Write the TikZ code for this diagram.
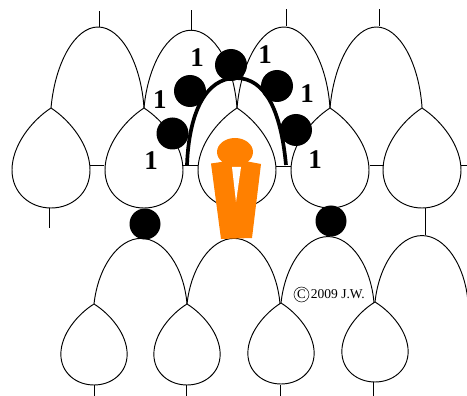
\documentclass[tikz,border=0pt]{standalone}
\usepackage{fontspec}
\setmainfont{Liberation Serif}
\usetikzlibrary{positioning}
\definecolor{bodyorange}{RGB}{255,128,0}
\tikzset{
    leaf/.pic={
        \draw[wire] (0,0) .. controls (-20,13) and (-39,38) .. (-39,62)
            .. controls (-39,85) and (-21,100) .. (0,100)
            .. controls (21,100) and (39,85) .. (39,62)
            .. controls (39,38) and (20,13) .. (0,0);
    },
    arch/.pic={
        \draw[wire] (0,0) .. controls (4,-45) and (24,-81) .. (47,-81)
            .. controls (70,-81) and (90,-45) .. (93,0);
    }
}
\begin{document}
\begin{tikzpicture}[x=1pt,y=-1pt,
    wire/.style={line width=0.95pt},
    ball/.style={circle,fill=black,inner sep=0pt,minimum size=32pt},
    smallball/.style={circle,fill=black,inner sep=0pt,minimum size=31pt},
    one/.style={font=\fontsize{27}{27}\selectfont\bfseries,inner sep=0pt},
    small/.style={font=\fontsize{13.5}{13.5}\selectfont,inner sep=0pt}]
    \useasboundingbox (0,0) rectangle (467,396);

    % upper row
    \coordinate (t1) at (51,108);
    \coordinate (t2) at (144,108);
    \coordinate (t3) at (237,108);
    \coordinate (t4) at (330,108);
    \coordinate (t5) at (422,108);
    \pic at (t1) {leaf};
    \pic at (t2) {leaf};
    \pic at (t3) {leaf};
    \pic at (t4) {leaf};
    \pic at (t5) {leaf};
    \pic at (t1) {arch};
    \pic[yscale=0.96] at (t2) {arch};
    \pic at (t3) {arch};
    \pic[xscale=0.99] at (t4) {arch};

    % stubs
    \draw[wire] (99,27) -- (99,11);
    \draw[wire] (191,30) -- (191,10);
    \draw[wire] (286,26) -- (286,9);
    \draw[wire] (379,26) -- (379,9);
    \draw[wire] (90,165) -- (104,165);
    \draw[wire] (182,165) -- (198,165);
    \draw[wire] (276,166) -- (291,166);
    \draw[wire] (370,165) -- (384,165);
    \draw[wire] (461,165) -- (467,165);
    \draw[wire] (49.5,208) -- (49.5,228);
    \draw[wire] (425,208) -- (425,235);

    % lower row
    \coordinate (u1) at (94,304);
    \coordinate (u2) at (187,304);
    \coordinate (u3) at (281,303);
    \coordinate (u4) at (375,302);
    \pic[xscale=0.85,yscale=0.81] at (u1) {leaf};
    \pic[xscale=0.85,yscale=0.81] at (u2) {leaf};
    \pic[xscale=0.85,yscale=0.81] at (u3) {leaf};
    \pic[xscale=0.85,yscale=0.8] at (u4) {leaf};
    \pic[yscale=0.81] at (u1) {arch};
    \pic[yscale=0.81] at (u2) {arch};
    \pic[yscale=0.82] at (u3) {arch};
    \begin{scope}
        \clip (0,0) rectangle (467,396);
        \pic[yscale=0.82] at (u4) {arch};
    \end{scope}
    \draw[wire] (94,385) -- (94,396);
    \draw[wire] (186,385) -- (186,396);
    \draw[wire] (280,385) -- (280,396);
    \draw[wire] (373,382) -- (373,396);

    % orange figure
    \fill[bodyorange] (211,163.5) -- (228,161) -- (245,161) -- (261,164)
        -- (252,238) -- (221,239) -- cycle;
    \fill[bodyorange] (235,152) ellipse (18 and 14);
    \fill[white] (232,167) -- (241,167) -- (236,202) -- cycle;

    % thick arch
    \coordinate (h1) at (187,165);
    \coordinate (h2) at (286,165);
    \draw[line width=3.7pt] (h1) .. controls (189,112) and (206,78) .. (236,78)
        .. controls (266,78) and (281,112) .. (h2);

    % black circles
    \node[ball] (b1) at (172.5,133.5) {};
    \node[ball] (b2) at (190,91) {};
    \node[ball] (b3) at (231,65) {};
    \node[ball] (b4) at (277,86) {};
    \node[ball] (b5) at (296,130) {};
    \node[smallball] (c1) at (145,224) {};
    \node[smallball] (c2) at (331,221) {};

    % labels
    \node[one] (n1) at (151,161) {1};
    \node[one] (n2) at (160,100) {1};
    \node[one] (n3) at (197,58) {1};
    \node[one] (n4) at (265,55) {1};
    \node[one] (n5) at (307,94) {1};
    \node[one] (n6) at (315,160) {1};
    \node[draw,circle,line width=0.5pt,minimum size=15pt,inner sep=0pt,
          font=\fontsize{13}{13}\selectfont] (mark) at (301.5,294.5) {C};
    \node[small,right=1.5pt of mark] (mark_text) {2009 J.W.};
\end{tikzpicture}
\end{document}
